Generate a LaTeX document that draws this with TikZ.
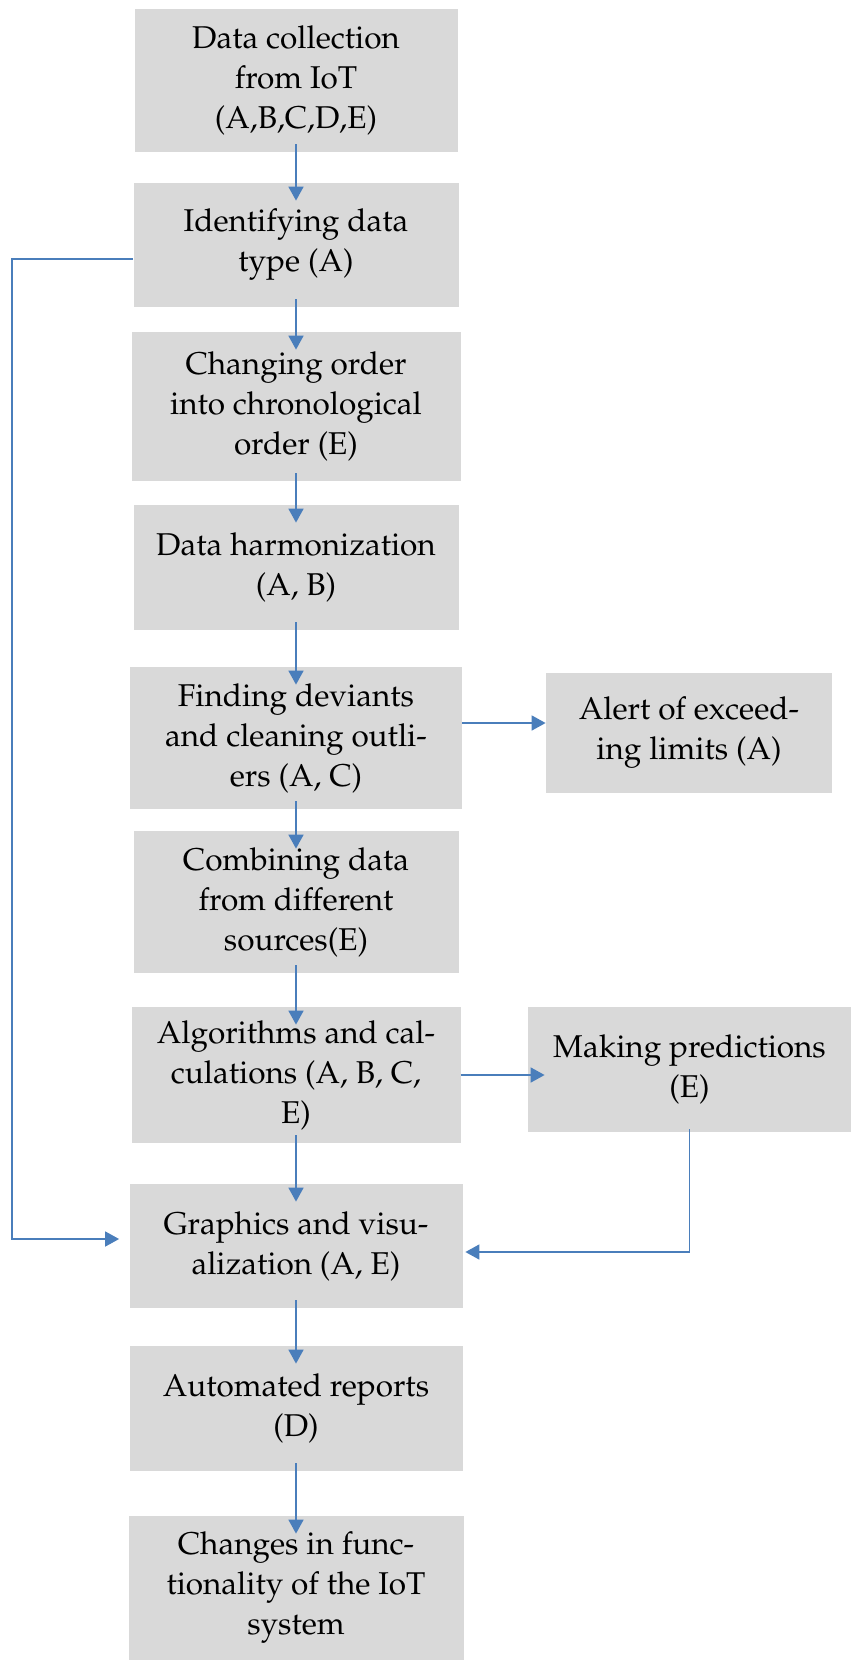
\documentclass[tikz,border=0pt]{standalone}
\usepackage[T1]{fontenc}
\usepackage{mathpazo}
\usetikzlibrary{arrows.meta}
\definecolor{boxgray}{HTML}{D9D9D9}
\definecolor{flowblue}{HTML}{4A7EBB}
\tikzset{stepbox/.style={draw=none, fill=boxgray, align=center, inner sep=0pt,
  font=\fontsize{15.75}{20}\selectfont},
  flow/.style={->, draw=flowblue, line width=0.85pt},
  down/.style={flow, shorten <=-4pt, shorten >=-9pt}}

\begin{document}
\begin{tikzpicture}[x=0.5pt, y=0.5pt, >={Triangle[width=7.5pt, length=7pt]}]
  \useasboundingbox (0,0) rectangle (851,-1660);
  % main column
  \node[stepbox, minimum width=161.5pt, minimum height=71.5pt] (collect) at (296,-80.5)
    {Data collection\\from IoT\\(A,B,C,D,E)};
  \node[stepbox, minimum width=162.5pt, minimum height=62pt] (ident) at (296,-245)
    {Identifying data\\type (A)};
  \node[stepbox, minimum width=164.5pt, minimum height=74.5pt] (chrono) at (296,-406.5)
    {Changing order\\into chronological\\order (E)};
  \node[stepbox, minimum width=162.5pt, minimum height=62.5pt] (harmon) at (296,-567.5)
    {Data harmonization\\(A, B)};
  \node[stepbox, minimum width=166pt, minimum height=71pt] (devi) at (296,-738)
    {Finding deviants\\and cleaning outli-\\ers (A, C)};
  \node[stepbox, minimum width=162.5pt, minimum height=71pt] (combine) at (296,-902)
    {Combining data\\from different\\sources(E)};
  \node[stepbox, minimum width=164.5pt, minimum height=68pt] (algo) at (296,-1075)
    {Algorithms and cal-\\culations (A, B, C,\\E)};
  \node[stepbox, minimum width=166.5pt, minimum height=62pt] (graph) at (296,-1246)
    {Graphics and visu-\\alization (A, E)};
  \node[stepbox, minimum width=166.5pt, minimum height=62.5pt] (report) at (296,-1408.5)
    {Automated reports\\(D)};
  \node[stepbox, minimum width=167.5pt, minimum height=72pt] (change) at (296,-1588)
    {Changes in func-\\tionality of the IoT\\system};
  % side boxes
  \node[stepbox, minimum width=143pt, minimum height=60pt] (alert) at (689,-733)
    {Alert of exceed-\\ing limits (A)};
  \node[stepbox, minimum width=161.5pt, minimum height=62.5pt] (pred) at (689.5,-1069.5)
    {Making predictions\\(E)};

  \draw[down] (collect) -- (ident);
  \draw[down] (ident) -- (chrono);
  \draw[down] (chrono) -- (harmon);
  \draw[down] (harmon) -- (devi);
  \draw[down] (devi) -- (combine);
  \draw[down] (combine) -- (algo);
  \draw[down] (algo) -- (graph);
  \draw[down] (graph) -- (report);
  \draw[down] (report) -- (change);

  \coordinate (alertin) at ([yshift=5pt]alert.west);
  \draw[flow] (devi.east |- alertin) -- (alertin);
  \draw[flow, shorten >=-8.5pt] (algo.east) -- (algo.east -| pred.west);

  % feedback lines
  \coordinate (fb) at (12,0);
  \coordinate (graphin) at ([yshift=3.5pt, xshift=-5pt]graph.west);
  \draw[flow] ([yshift=-7pt]ident.west) -- ([yshift=-7pt]ident.west -| fb) |- (graphin);
  \draw[flow] ([yshift=1.5pt]pred.south) |- ([yshift=-3pt, xshift=1.25pt]graph.east);
\end{tikzpicture}
\end{document}
